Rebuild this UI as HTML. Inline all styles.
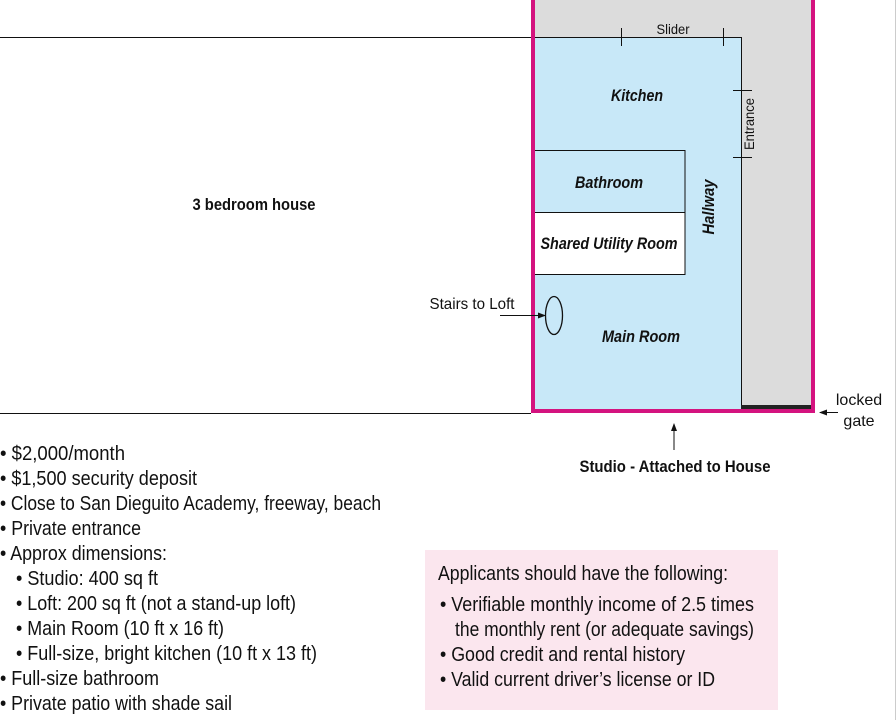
<!DOCTYPE html>
<html><head><meta charset="utf-8"><style>
html,body{margin:0;padding:0;background:#fff;}
svg{display:block;}
text{font-family:"Liberation Sans Narrow","Liberation Sans",sans-serif;fill:#111;}
</style></head><body>
<svg width="896" height="720" viewBox="0 0 896 720" xmlns="http://www.w3.org/2000/svg">
<defs><marker id="ah" markerWidth="8" markerHeight="8" refX="7" refY="4" orient="auto"><path d="M0,1 L8,4 L0,7 Z" fill="#111"/></marker></defs>
<line x1="0" y1="37.5" x2="531" y2="37.5" stroke="#111" stroke-width="1"/>
<line x1="0" y1="413.5" x2="531" y2="413.5" stroke="#111" stroke-width="1"/>
<line x1="895.5" y1="0" x2="895.5" y2="720" stroke="#ccc" stroke-width="1"/>
<rect x="533" y="0" width="281" height="412" fill="#dcdcdc"/>
<rect x="533" y="37.5" width="208" height="374" fill="#c8e8f8"/>
<line x1="533" y1="37.5" x2="741" y2="37.5" stroke="#111"/>
<line x1="741.5" y1="37" x2="741.5" y2="410" stroke="#111"/>
<line x1="621.5" y1="28" x2="621.5" y2="46" stroke="#111"/>
<line x1="723.5" y1="28" x2="723.5" y2="46" stroke="#111"/>
<line x1="733" y1="90.5" x2="752" y2="90.5" stroke="#111"/>
<line x1="733" y1="157.5" x2="752" y2="157.5" stroke="#111"/>
<rect x="533" y="150.5" width="152" height="62" fill="#c8e8f8" stroke="#111"/>
<rect x="533" y="212.5" width="152" height="62" fill="#fff" stroke="#111"/>
<rect x="741" y="405" width="73" height="6" fill="#222"/>
<path d="M533 0 V411 H813 V0" fill="none" stroke="#d4137f" stroke-width="4"/>
<ellipse cx="554" cy="315.5" rx="8.5" ry="19" fill="none" stroke="#111" stroke-width="1.3"/>
<line x1="500" y1="315.5" x2="545" y2="315.5" stroke="#111" marker-end="url(#ah)"/>
<line x1="838" y1="412.5" x2="820" y2="412.5" stroke="#111" marker-end="url(#ah)"/>
<line x1="674" y1="450" x2="674" y2="424" stroke="#111" marker-end="url(#ah)"/>
<text x="673" y="34" font-size="14" text-anchor="middle" textLength="33" lengthAdjust="spacingAndGlyphs">Slider</text>
<text transform="translate(754,124) rotate(-90)" font-size="14" text-anchor="middle" textLength="52" lengthAdjust="spacingAndGlyphs">Entrance</text>
<text x="637" y="101" font-size="17" font-style="italic" font-weight="bold" text-anchor="middle" textLength="52" lengthAdjust="spacingAndGlyphs">Kitchen</text>
<text x="609" y="188" font-size="17" font-style="italic" font-weight="bold" text-anchor="middle" textLength="68" lengthAdjust="spacingAndGlyphs">Bathroom</text>
<text x="609" y="249" font-size="17" font-style="italic" font-weight="bold" text-anchor="middle" textLength="137" lengthAdjust="spacingAndGlyphs">Shared Utility Room</text>
<text transform="translate(714,207) rotate(-90)" font-size="17" font-style="italic" font-weight="bold" text-anchor="middle" textLength="55" lengthAdjust="spacingAndGlyphs">Hallway</text>
<text x="641" y="342" font-size="17" font-style="italic" font-weight="bold" text-anchor="middle" textLength="78" lengthAdjust="spacingAndGlyphs">Main Room</text>
<text x="254" y="210" font-size="17" font-weight="bold" text-anchor="middle" textLength="123" lengthAdjust="spacingAndGlyphs">3 bedroom house</text>
<text x="472" y="309" font-size="16" text-anchor="middle" textLength="85" lengthAdjust="spacingAndGlyphs">Stairs to Loft</text>
<text x="859" y="405" font-size="16" text-anchor="middle">locked</text>
<text x="859" y="426" font-size="16" text-anchor="middle">gate</text>
<text x="675" y="472" font-size="17" font-weight="bold" text-anchor="middle" textLength="191" lengthAdjust="spacingAndGlyphs">Studio - Attached to House</text>
<g font-size="20">
<text x="0" y="460" textLength="125" lengthAdjust="spacingAndGlyphs">• $2,000/month</text>
<text x="0" y="485" textLength="197" lengthAdjust="spacingAndGlyphs">• $1,500 security deposit</text>
<text x="0" y="510" textLength="381" lengthAdjust="spacingAndGlyphs">• Close to San Dieguito Academy, freeway, beach</text>
<text x="0" y="535" textLength="141" lengthAdjust="spacingAndGlyphs">• Private entrance</text>
<text x="0" y="560" textLength="167" lengthAdjust="spacingAndGlyphs">• Approx dimensions:</text>
<text x="16" y="585" textLength="142" lengthAdjust="spacingAndGlyphs">• Studio: 400 sq ft</text>
<text x="16" y="610" textLength="280" lengthAdjust="spacingAndGlyphs">• Loft: 200 sq ft (not a stand-up loft)</text>
<text x="16" y="635" textLength="208" lengthAdjust="spacingAndGlyphs">• Main Room (10 ft x 16 ft)</text>
<text x="16" y="660" textLength="301" lengthAdjust="spacingAndGlyphs">• Full-size, bright kitchen (10 ft x 13 ft)</text>
<text x="0" y="685" textLength="159" lengthAdjust="spacingAndGlyphs">• Full-size bathroom</text>
<text x="0" y="710" textLength="232" lengthAdjust="spacingAndGlyphs">• Private patio with shade sail</text>
</g>
<rect x="425" y="550" width="353" height="160" fill="#fbe6ee"/>
<g font-size="20">
<text x="438" y="580" textLength="290" lengthAdjust="spacingAndGlyphs">Applicants should have the following:</text>
<text x="440" y="611" textLength="314" lengthAdjust="spacingAndGlyphs">• Verifiable monthly income of 2.5 times</text>
<text x="455" y="636" textLength="299" lengthAdjust="spacingAndGlyphs">the monthly rent (or adequate savings)</text>
<text x="440" y="661" textLength="245" lengthAdjust="spacingAndGlyphs">• Good credit and rental history</text>
<text x="440" y="686" textLength="275" lengthAdjust="spacingAndGlyphs">• Valid current driver’s license or ID</text>
</g>
</svg>
</body></html>
